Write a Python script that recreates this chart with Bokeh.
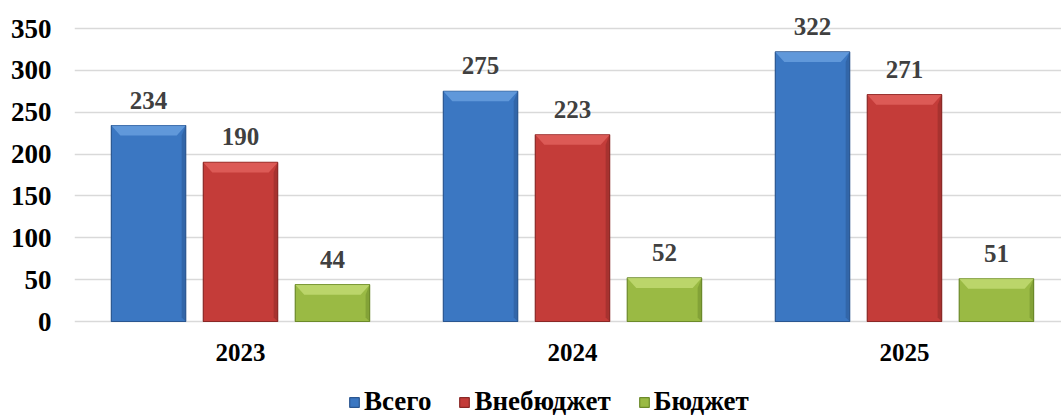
from bokeh.plotting import figure
from bokeh.models import (Range1d, FixedTicker, ColumnDataSource, LabelSet,
                          Legend, LegendItem)
from bokeh.core.properties import value
from bokeh.embed import file_html
from bokeh.resources import INLINE

years = ["2023", "2024", "2025"]
series_names = ["Всего", "Внебюджет", "Бюджет"]
vsego = [234, 275, 322]
vnebudzhet = [190, 223, 271]
budzhet = [44, 52, 51]
y_ticks = [0, 50, 100, 150, 200, 250, 300, 350]

body_colors = ["#3b77c2", "#c43c39", "#9aba44"]
band_colors = ["#6aa0e0", "#e2625e", "#c3dc74"]
edge_colors = ["#2a5690", "#8a2826", "#6c8a2a"]
offsets = [-0.277, 0.0, 0.277]
bar_w = 0.224
FONT = "Liberation Serif"

H = 417
TOP = 28
BOTTOM_Y = 321        # pixel row of value 0
YMAX_TICK = 350.0
py = (BOTTOM_Y - TOP) / YMAX_TICK   # px per unit
ymax = YMAX_TICK + TOP / py
ymin = -(H - BOTTOM_Y) / py

p = figure(width=1061, height=H, output_backend="svg", toolbar_location=None,
           x_range=Range1d(-0.5, 2.473), y_range=Range1d(ymin, ymax),
           x_axis_location=None,
           min_border_left=74, min_border_right=0, min_border_top=0,
           min_border_bottom=0)
p.outline_line_color = None
p.background_fill_color = "white"
p.border_fill_color = "white"

x = [float(i) for i in range(len(years))]
pxu = 987 / 2.973     # px per x unit
items = []
for vals, name, bc, hc, ec, off in zip([vsego, vnebudzhet, budzhet], series_names,
                                       body_colors, band_colors, edge_colors, offsets):
    xs = [xi + off for xi in x]
    src = ColumnDataSource(dict(x=xs, top=[float(v) for v in vals],
                                lbl=[str(v) for v in vals]))
    r = p.vbar(x="x", top="top", bottom=0, width=bar_w, source=src,
               fill_color=bc, line_color=ec, line_width=1.2)
    ix = 9 / pxu
    iy = 10 / py
    pxs, pys, pxs2, pys2 = [], [], [], []
    for xc, v in zip(xs, vals):
        l, rr = xc - bar_w / 2, xc + bar_w / 2
        pxs.append([l, rr, rr - ix, l + ix])
        pys.append([float(v), float(v), v - iy, v - iy])
        pxs2.append([rr, rr, rr - 4 / pxu, rr - 4 / pxu])
        pys2.append([float(v), 0.0, 4 / py, v - iy])
    p.patches(pxs, pys, fill_color=hc, fill_alpha=0.8, line_color=None)
    p.patches(pxs2, pys2, fill_color=ec, fill_alpha=0.5, line_color=None)
    lab = LabelSet(x="x", y="top", text="lbl", source=src, text_align="center",
                   text_baseline="alphabetic", y_offset=17, text_font=value(FONT),
                   text_font_style="bold", text_font_size="25px", text_color="#404040")
    p.add_layout(lab)
    items.append(LegendItem(label=name, renderers=[r]))

# category labels under the groups
cat_src = ColumnDataSource(dict(x=x, y=[0.0] * len(x), t=years))
p.add_layout(LabelSet(x="x", y="y", text="t", source=cat_src, text_align="center",
                      text_baseline="alphabetic", y_offset=-39, text_font=value(FONT),
                      text_font_style="bold", text_font_size="25px",
                      text_color="black"))

p.yaxis.ticker = FixedTicker(ticks=[float(t) for t in y_ticks])
ax = p.yaxis[0]
ax.axis_line_color = None
ax.major_tick_line_color = None
ax.minor_tick_line_color = None
ax.major_label_text_font = FONT
ax.major_label_text_font_style = "bold"
ax.major_label_text_font_size = "27px"
ax.major_label_text_color = "black"
ax.major_label_standoff = 17
p.xgrid.grid_line_color = None
p.ygrid.grid_line_color = "#d9d9d9"
p.ygrid.grid_line_width = 1.5

legend = Legend(items=items, orientation="horizontal", location=(274, 0),
                label_text_font=FONT, label_text_font_style="bold",
                label_text_font_size="27px", label_text_color="black",
                glyph_width=12, glyph_height=12, spacing=27, label_standoff=4,
                border_line_color=None, background_fill_alpha=0, margin=0,
                padding=0)
p.add_layout(legend)

open("out.html", "w").write(file_html(p, INLINE))
